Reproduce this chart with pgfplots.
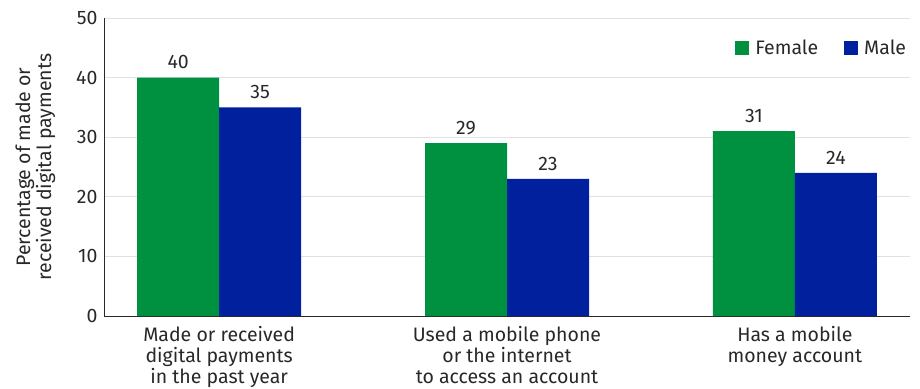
\documentclass[border=0pt]{standalone}
\usepackage{fontspec}
\setmainfont{Fira Sans}
\usepackage{pgfplots}
\pgfplotsset{compat=1.18}
\definecolor{fgreen}{RGB}{0,145,64}
\definecolor{mblue}{RGB}{0,32,158}
\definecolor{txt}{RGB}{40,40,40}
\definecolor{gridc}{RGB}{225,225,225}
\begin{document}
\begin{tikzpicture}
\begin{axis}[
  scale only axis,
  width=806pt, height=298pt,
  xmin=-0.4, xmax=2.4, ymin=0, ymax=50,
  ybar=0pt, bar width=82pt,
  axis x line*=bottom, axis y line*=left,
  axis line style={draw=txt, line width=0.9pt},
  ytick={0,10,20,30,40,50},
  xtick={0,1,2},
  xticklabels={{Made or received\\digital payments\\in the past year},{Used a mobile phone\\or the internet\\to access an account},{Has a mobile\\money account}},
  major tick length=0pt,
  ymajorgrids, grid style={draw=gridc, line width=0.8pt},
  /pgf/number format/assume math mode=true,
  tick label style={font=\fontsize{19.5}{20.5}\selectfont, text=txt},
  yticklabel style={xshift=-3pt},
  xticklabel style={align=center, yshift=-7pt, font=\fontsize{19.5}{21}\selectfont},
  ylabel={Percentage of made or\\received digital payments},
  ylabel style={align=center, font=\fontsize{19.5}{21}\selectfont, text=txt, yshift=14pt},
  nodes near coords,
  nodes near coords style={font=\fontsize{19.5}{20}\selectfont, text=txt, yshift=5pt},
  legend style={at={(0.783,0.899)}, anchor=west, draw=none, fill=none, inner sep=0pt,
    font=\fontsize{19.5}{20}\selectfont, text=txt,
    /tikz/every odd column/.append style={column sep=4pt},
    /tikz/every even column/.append style={column sep=24pt}},
  legend columns=2,
  legend image code/.code={\fill[#1] (0pt,-7pt) rectangle (14pt,7pt);},
  legend cell align=left,
  clip=false,
]
\addplot[fill=fgreen, draw=none] coordinates {(0,40) (1,29) (2,31)};
\addplot[fill=mblue, draw=none] coordinates {(0,35) (1,23) (2,24)};
\legend{Female, Male}
\end{axis}
\pgfresetboundingbox
\path (current axis.south west) ++(-104pt,-72pt) rectangle ++(920pt,388pt);
\end{tikzpicture}
\end{document}
